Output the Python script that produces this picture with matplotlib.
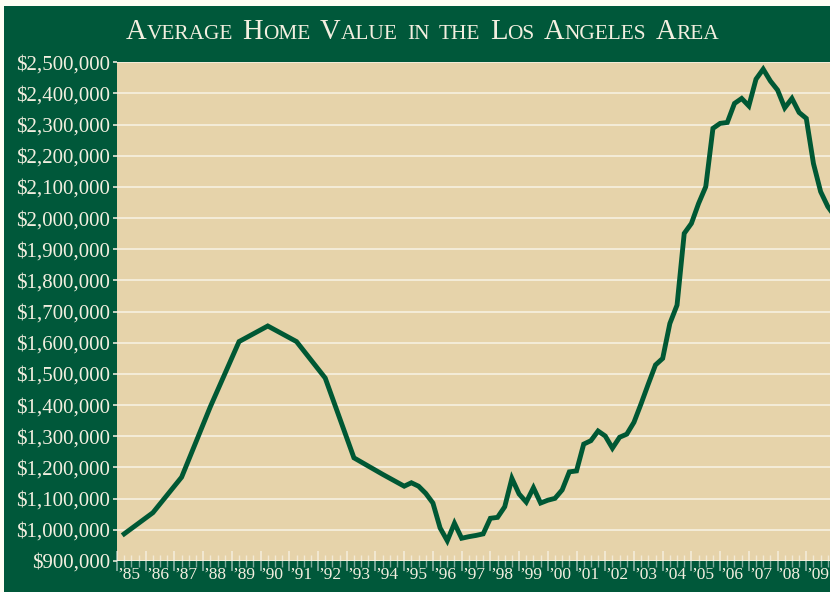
import numpy as np
import matplotlib
matplotlib.use('Agg')
from matplotlib import pyplot as plt
from matplotlib.patches import Rectangle
from matplotlib.ticker import FuncFormatter, MultipleLocator

# colours
GREEN = '#00583a'
TAN = '#e6d3aa'
LINE = '#005834'
GRID = '#f8f3e6'
CREAM = '#fffef4'
LABEL = '#f3efe0'

# yearly readings up to 1994
annual_years = [1985.25, 1986.25, 1987.25, 1988.25, 1989.25,
                1990.25, 1991.25, 1992.25, 1993.25, 1994.25]
annual_values = [987000, 1055000, 1169000, 1395000, 1604000,
                 1654000, 1604000, 1487000, 1231000, 1178000]

# quarterly readings from 1995 on
quarter_start = 1995.0
quarter_values = [
    1140000, 1151000, 1140000, 1117000,   # 1995
    1086000, 1006000, 965000, 1021000,    # 1996
    973000, 978000, 982000, 987000,       # 1997
    1037000, 1040000, 1074000, 1165000,   # 1998
    1115000, 1089000, 1135000, 1086000,   # 1999
    1095000, 1101000, 1128000, 1186000,   # 2000
    1189000, 1275000, 1286000, 1317000,   # 2001
    1301000, 1262000, 1297000, 1307000,   # 2002
    1345000, 1405000, 1468000, 1529000,   # 2003
    1550000, 1662000, 1721000, 1951000,   # 2004
    1983000, 2047000, 2101000, 2288000,   # 2005
    2304000, 2307000, 2368000, 2384000,   # 2006
    2360000, 2446000, 2478000, 2440000,   # 2007
    2411000, 2354000, 2384000, 2339000,   # 2008
    2320000, 2175000, 2085000, 2037000,   # 2009
    2005000,                              # 2010
]

year_labels = ['\u2019%02d' % (y % 100) for y in range(1985, 2010)]
y_ticks = list(range(900000, 2500001, 100000))

title_words = ['Average', 'Home', 'Value', 'in', 'the', 'Los', 'Angeles', 'Area']
lower_words = ['in', 'the']

W, H = 830, 592
fig = plt.figure(figsize=(W / 100, H / 100), dpi=100, facecolor=CREAM)
fig.patches.append(Rectangle((4 / W, 0), 1, (H - 6) / H, transform=fig.transFigure,
                             facecolor=GREEN, edgecolor='none', zorder=-10))

ax = fig.add_axes([117 / W, 1 - 561 / H, 1 - 117 / W, (561 - 62.3) / H])
ax.set_zorder(1)
ax.set_facecolor(TAN)
for s in ax.spines.values():
    s.set_visible(False)

t_q = quarter_start + 0.25 * np.arange(len(quarter_values))
t_all = np.concatenate([annual_years, t_q])
v_all = np.concatenate([annual_values, quarter_values])
ax.plot(t_all, v_all, color=LINE, lw=3.5, solid_joinstyle='miter', zorder=3)

ax.set_xlim(1985, 1985 + 713 / 28.72)
ax.set_ylim(900000, 2500000)

# y axis
ax.set_yticks(y_ticks)
ax.yaxis.set_major_formatter(FuncFormatter(lambda v, p: '${:,.0f}'.format(v)))
ax.tick_params(axis='y', length=3, width=1.1, color=GRID, pad=2,
               labelcolor=LABEL, labelsize=15)
for lab in ax.get_yticklabels():
    lab.set_family('Liberation Serif')
ax.grid(axis='y', color=GRID, lw=1.1, zorder=1)
ax.set_axisbelow(True)

# x axis: year and quarter ticks, labels centred in each year
ax.xaxis.set_major_locator(MultipleLocator(1))
ax.xaxis.set_minor_locator(MultipleLocator(0.25))
ax.tick_params(axis='x', which='major', direction='inout', length=15, width=1.2,
               color=(1, 1, 1, 0.55), labelbottom=False)
ax.tick_params(axis='x', which='minor', direction='inout', length=8, width=1.0,
               color=(1, 1, 1, 0.5))
xtr = ax.get_xaxis_transform()
for i, lab in enumerate(year_labels):
    ax.annotate(lab, xy=(1985 + i + 0.5, 0), xycoords=xtr,
                xytext=(-1.8, -4.2), textcoords='offset points',
                ha='center', va='top', color=LABEL, fontsize=12.5,
                family='Liberation Serif', annotation_clip=False)

# title in small capitals, built from runs of two sizes
fig.canvas.draw()
renderer = fig.canvas.get_renderer()
big, small = 20.6, 15.4
runs = []
for w in title_words:
    if w in lower_words:
        runs.append([(w.upper(), small)])
    else:
        runs.append([(w[0].upper(), big), (w[1:].upper(), small)])
gap = 9.5
texts = []
x = 0.0
for word in runs:
    for s, size in word:
        t = fig.text(0, 0, s, fontsize=size, color=LABEL, family='Liberation Serif',
                     va='baseline', ha='left')
        wpx = t.get_window_extent(renderer).width
        texts.append((t, x))
        x += wpx
    x += gap
total = x - gap
x0 = 422.5 - total / 2
base = 1 - 39.3 / H
for t, off in texts:
    t.set_position(((x0 + off) / W, base))

fig.savefig('out.png', dpi=100, facecolor=CREAM)
